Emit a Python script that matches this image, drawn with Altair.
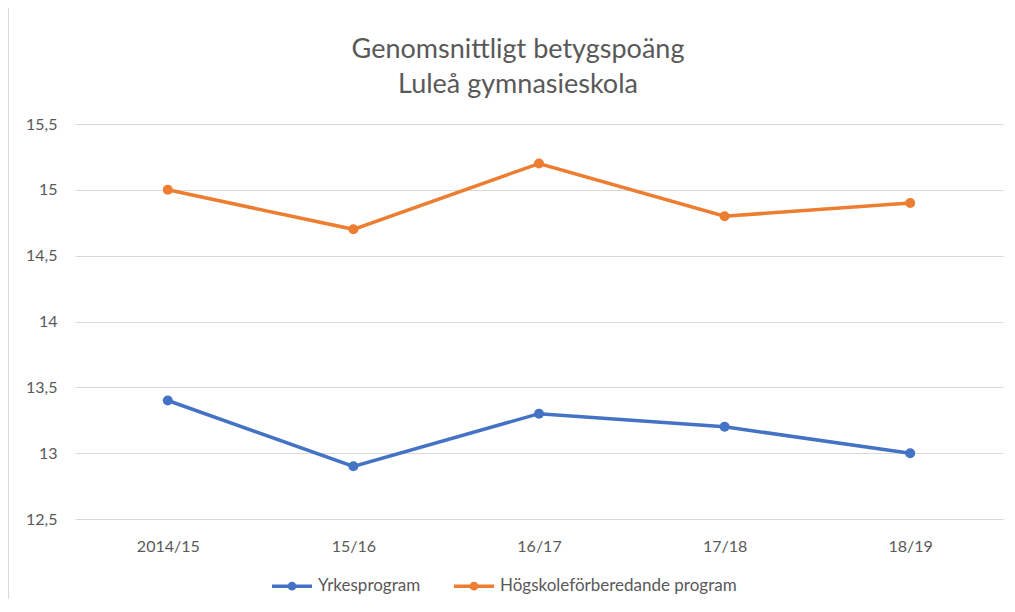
import altair as alt
import pandas as pd

years = ["2014/15", "15/16", "16/17", "17/18", "18/19"]
series_names = ["Yrkesprogram", "Högskoleförberedande program"]
yrkes = [13.4, 12.9, 13.3, 13.2, 13.0]
hogskole = [15.0, 14.7, 15.2, 14.8, 14.9]
y_ticks = [12.5, 13.0, 13.5, 14.0, 14.5, 15.0, 15.5]
colors = ["#4472C4", "#ED7D31"]

rows = []
for name, vals in zip(series_names, [yrkes, hogskole]):
    for yr, v in zip(years, vals):
        rows.append({"År": yr, "Program": name, "Poäng": v})
df = pd.DataFrame(rows)

FONT = "Lato"
GREY = "#595959"

color = alt.Color(
    "Program:N",
    scale=alt.Scale(domain=series_names, range=colors),
    sort=series_names,
    legend=alt.Legend(
        title=None,
        orient="none",
        legendX=195,
        legendY=440,
        direction="horizontal",
        symbolType="M-1,0H1M0,-0.13A0.13,0.13 0 1,1 0,0.13A0.13,0.13 0 1,1 0,-0.13Z",
        symbolSize=1600,
        symbolStrokeWidth=3.5,
        labelFont=FONT,
        labelFontSize=17,
        labelColor=GREY,
        labelOffset=4,
        labelLimit=0,
        columnPadding=26,
    ),
)

x = alt.X(
    "År:N",
    sort=years,
    title=None,
    scale=alt.Scale(type="point", padding=0.5),
    axis=alt.Axis(
        labelAngle=0,
        labelFont=FONT,
        labelFontSize=16,
        labelColor=GREY,
        labelPadding=19,
        domain=False,
        ticks=False,
        grid=False,
    ),
)
y = alt.Y(
    "Poäng:Q",
    title=None,
    scale=alt.Scale(domain=[12.5, 15.5], nice=False, zero=False),
    axis=alt.Axis(
        values=y_ticks,
        labelExpr="replace(format(datum.value, ''), '.', ',')",
        labelFont=FONT,
        labelFontSize=16,
        labelColor=GREY,
        labelPadding=18,
        domain=False,
        ticks=False,
        gridColor="#d9d9d9",
        gridWidth=1,
    ),
)

lines = alt.Chart(df).mark_line(strokeWidth=3.5).encode(x=x, y=y, color=color)
points = alt.Chart(df).mark_point(filled=True, size=100, opacity=1).encode(x=x, y=y, color=color)

frame_left = alt.Chart(df).mark_rule(color="#d9d9d9", strokeWidth=1, clip=False).encode(
    x=alt.value(-67), y=alt.value(-117), y2=alt.value(480)
)
frame_top = alt.Chart(df).mark_rule(color="#d9d9d9", strokeWidth=1, clip=False).encode(
    x=alt.value(-67), x2=alt.value(1000), y=alt.value(-117)
)

chart = (
    alt.layer(frame_left, frame_top, lines, points)
    .properties(
        width=928,
        height=395,
        title=alt.TitleParams(
            text=["Genomsnittligt betygspoäng", "Luleå gymnasieskola"],
            font=FONT,
            fontSize=27,
            fontWeight="normal",
            color=GREY,
            anchor="middle",
            dx=-21,
            offset=-92,
            lineHeight=35,
        ),
        autosize=alt.AutoSizeParams(type="none"),
        padding={"left": 67, "top": 116, "right": 4, "bottom": 80},
    )
    .configure_view(stroke=None)
    .configure_title(frame="group")
)

chart.save("out.html", embed_options={"renderer": "svg", "actions": False})
